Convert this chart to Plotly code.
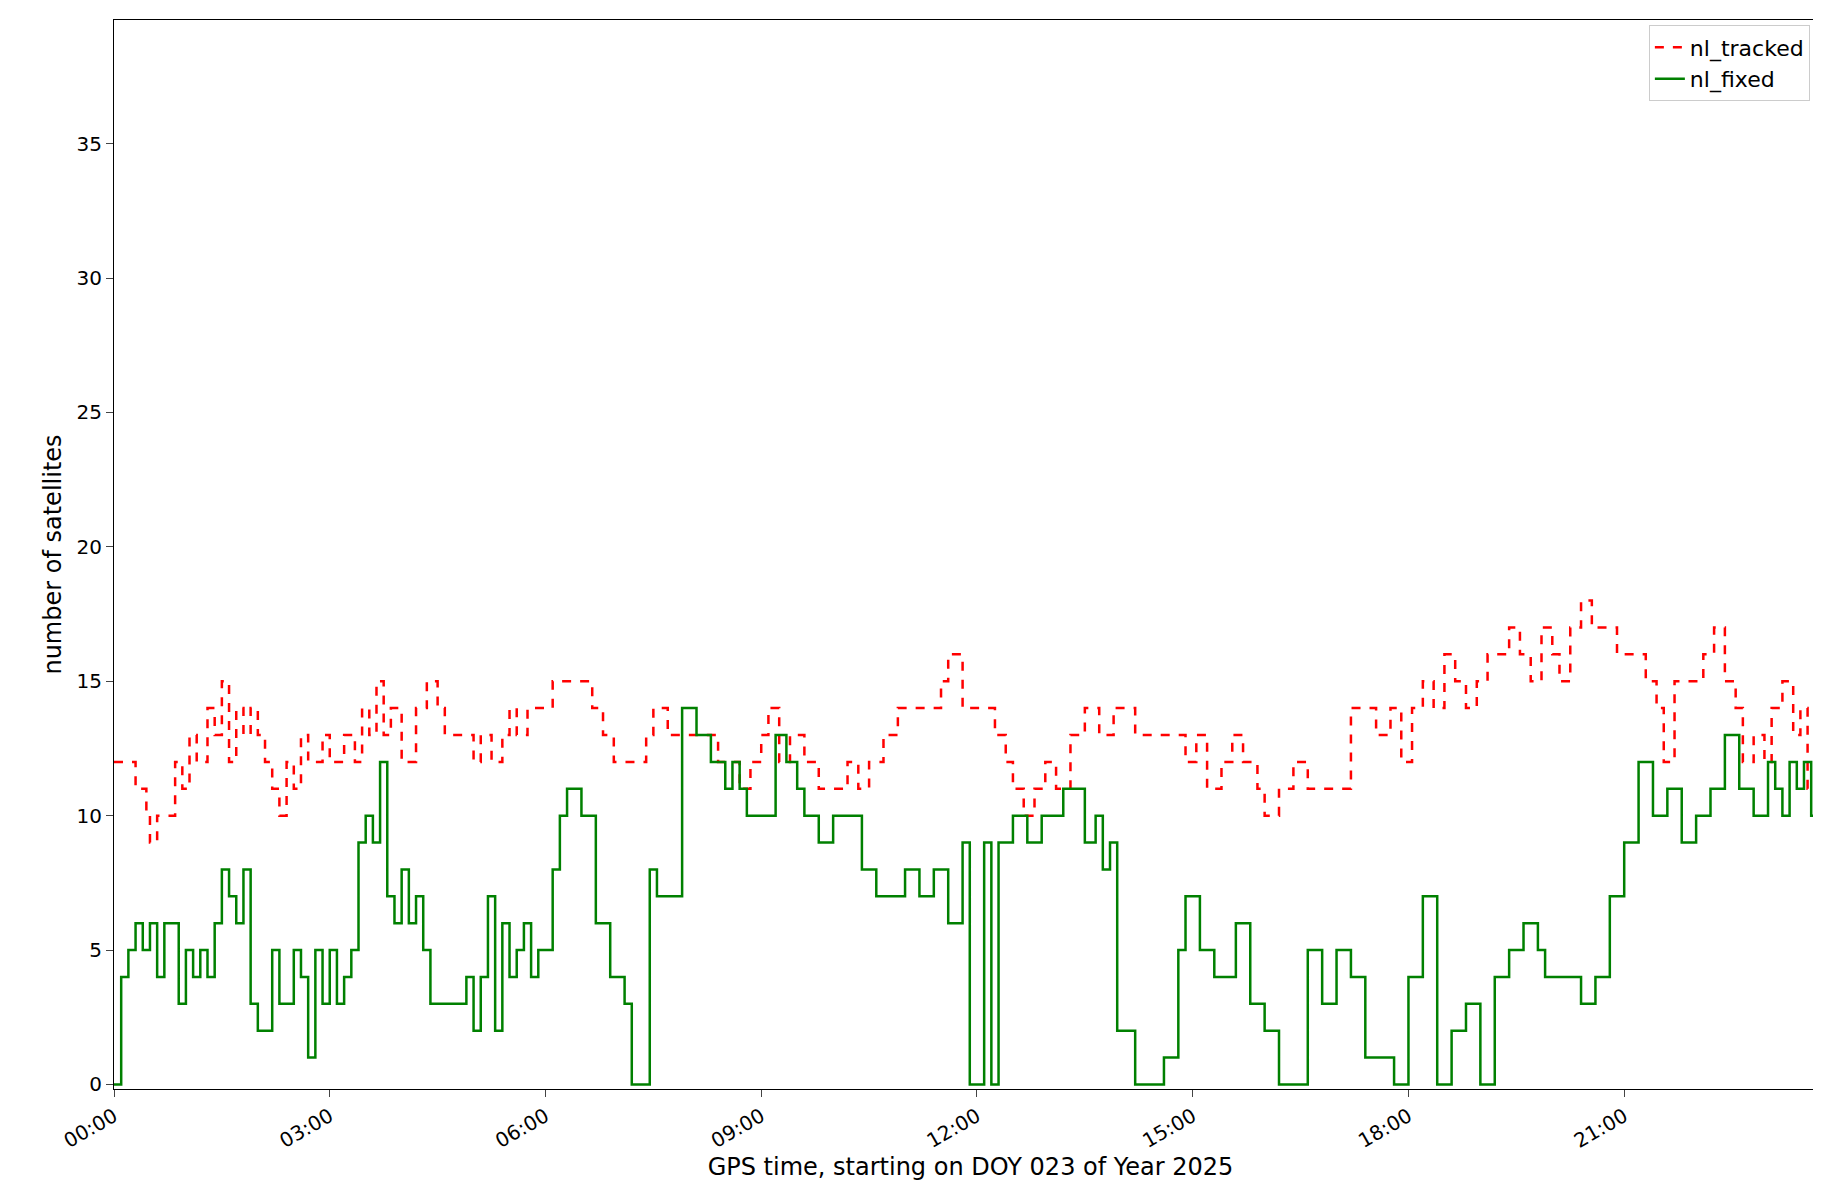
import plotly.graph_objects as go
import pandas as pd

# hours since 00:00 on DOY 023 2025, and values (step series)
trk_h = [0,0.3,0.45,0.5,0.6,0.7,0.85,0.95,1.05,1.15,1.25,1.3,1.4,1.5,1.6,1.7,1.8,1.9,2.0,2.1,2.2,2.3,2.4,2.5,2.6,2.7,2.8,2.9,3.0,3.2,3.35,3.45,3.55,3.65,3.75,3.85,4.0,4.2,4.35,4.5,4.6,4.8,5.0,5.1,5.25,5.4,5.5,5.6,5.75,5.9,6.1,6.5,6.65,6.8,6.95,7.2,7.4,7.5,7.7,8.0,8.2,8.4,8.55,8.7,8.85,9.0,9.1,9.25,9.4,9.6,9.8,10.0,10.2,10.35,10.5,10.7,10.9,11.1,11.4,11.5,11.6,11.8,12.1,12.25,12.4,12.5,12.65,12.8,12.95,13.1,13.3,13.5,13.7,13.9,14.2,14.7,14.9,15.05,15.2,15.4,15.55,15.7,15.9,16.0,16.2,16.4,16.6,16.9,17.2,17.4,17.55,17.75,17.9,18.05,18.2,18.35,18.5,18.65,18.8,18.95,19.1,19.25,19.4,19.55,19.7,19.85,20.0,20.1,20.25,20.4,20.55,20.9,21.05,21.3,21.45,21.55,21.7,21.9,22.1,22.25,22.4,22.55,22.65,22.8,22.95,23.05,23.2,23.35,23.45,23.55,23.65,23.8]
trk_v = [12,11,10,9,10,10,12,11,13,12,12,14,13,15,12,14,13,14,13,12,11,10,12,11,13,12,12,13,12,13,12,14,13,15,13,14,12,14,15,14,13,13,12,13,12,13,14,13,14,14,15,15,14,13,12,12,13,14,13,13,13,12,12,11,12,13,14,12,13,12,11,11,12,11,12,13,14,14,14,15,16,14,14,13,12,11,10,11,12,11,13,14,13,14,13,13,12,13,11,12,13,12,11,10,11,12,11,11,14,14,13,14,12,14,15,14,16,15,14,15,16,16,17,16,15,17,16,15,17,18,17,16,16,15,14,12,15,15,16,17,15,14,12,13,12,14,15,13,14,11,15,12]
fix_h = [0,0.05,0.1,0.2,0.3,0.4,0.5,0.6,0.7,0.8,0.9,1.0,1.1,1.2,1.3,1.4,1.5,1.6,1.7,1.8,1.9,2.0,2.1,2.2,2.3,2.4,2.5,2.6,2.7,2.8,2.9,3.0,3.1,3.2,3.3,3.4,3.5,3.6,3.7,3.8,3.9,4.0,4.1,4.2,4.3,4.4,4.6,4.8,4.9,5.0,5.1,5.2,5.3,5.4,5.5,5.6,5.7,5.8,5.9,6.0,6.1,6.2,6.3,6.5,6.7,6.9,7.0,7.1,7.2,7.3,7.45,7.55,7.7,7.9,8.1,8.3,8.5,8.6,8.7,8.8,9.0,9.2,9.35,9.5,9.6,9.8,10.0,10.2,10.4,10.6,10.8,11.0,11.2,11.4,11.6,11.8,11.9,12.0,12.1,12.2,12.3,12.4,12.5,12.7,12.9,13.2,13.4,13.5,13.65,13.75,13.85,13.95,14.2,14.4,14.6,14.8,14.9,15.1,15.3,15.5,15.6,15.8,16.0,16.2,16.4,16.6,16.8,17.0,17.2,17.4,17.6,17.8,18.0,18.2,18.4,18.6,18.8,19.0,19.2,19.4,19.6,19.8,19.9,20.0,20.2,20.4,20.6,20.8,21.0,21.2,21.4,21.6,21.8,22.0,22.2,22.4,22.6,22.8,23.0,23.1,23.2,23.3,23.4,23.5,23.6,23.7]
fix_v = [0,0,4,5,6,5,6,4,6,6,3,5,4,5,4,6,8,7,6,8,3,2,2,5,3,3,5,4,1,5,3,5,3,4,5,9,10,9,12,7,6,8,6,7,5,3,3,3,4,2,4,7,2,6,4,5,6,4,5,5,8,10,11,10,6,4,4,3,0,0,8,7,7,14,13,12,11,12,11,10,10,13,12,11,10,9,10,10,8,7,7,8,7,8,6,9,0,0,9,0,9,9,10,9,10,11,11,9,10,8,9,2,0,0,1,5,7,5,4,4,6,3,2,0,0,5,3,5,4,1,1,0,4,7,0,2,3,0,4,5,6,5,4,4,4,3,4,7,9,12,10,11,9,10,11,13,11,10,12,11,10,12,11,12,10,13,9,7,6,8,5,7,8]

base = pd.Timestamp("2025-01-23")
tx = [base + pd.Timedelta(hours=h) for h in trk_h]
fx = [base + pd.Timedelta(hours=h) for h in fix_h]
end = base + pd.Timedelta(hours=23.82)
tx.append(end); trk_v = trk_v + [trk_v[-1]]
fx.append(end); fix_v = fix_v + [fix_v[-1]]

fig = go.Figure()
fig.add_trace(go.Scatter(x=tx, y=trk_v, mode="lines", name="nl_tracked", line=dict(color="red", dash="dash", width=2.5, shape="hv")))
fig.add_trace(go.Scatter(x=fx, y=fix_v, mode="lines", name="nl_fixed", line=dict(color="green", width=2.5, shape="hv")))

fig.update_layout(
    width=1821, height=1201, paper_bgcolor="white", plot_bgcolor="white",
    margin=dict(l=106, r=2, t=12, b=120),
    font=dict(family="DejaVu Sans", size=20, color="black"),
    legend=dict(x=0.99, y=0.995, xanchor="right", yanchor="top", bordercolor="#cccccc", borderwidth=1, font=dict(size=22)),
    showlegend=True,
)
fig.update_xaxes(range=[base, end], tickformat="%H:%M", dtick=3*3600*1000, tick0=base, tickangle=-30,
                 showline=True, linecolor="black", mirror=True, ticks="outside", ticklen=7, showgrid=False,
                 title=dict(text="GPS time, starting on DOY 023 of Year 2025", standoff=5))
fig.update_yaxes(range=[-0.17, 39.6], tickvals=[0,5,10,15,20,25,30,35], showline=True, linecolor="black", mirror=True,
                 ticks="outside", ticklen=7, showgrid=False, zeroline=False, title=dict(text="number of satellites", standoff=8))
fig.write_html("out.html")
